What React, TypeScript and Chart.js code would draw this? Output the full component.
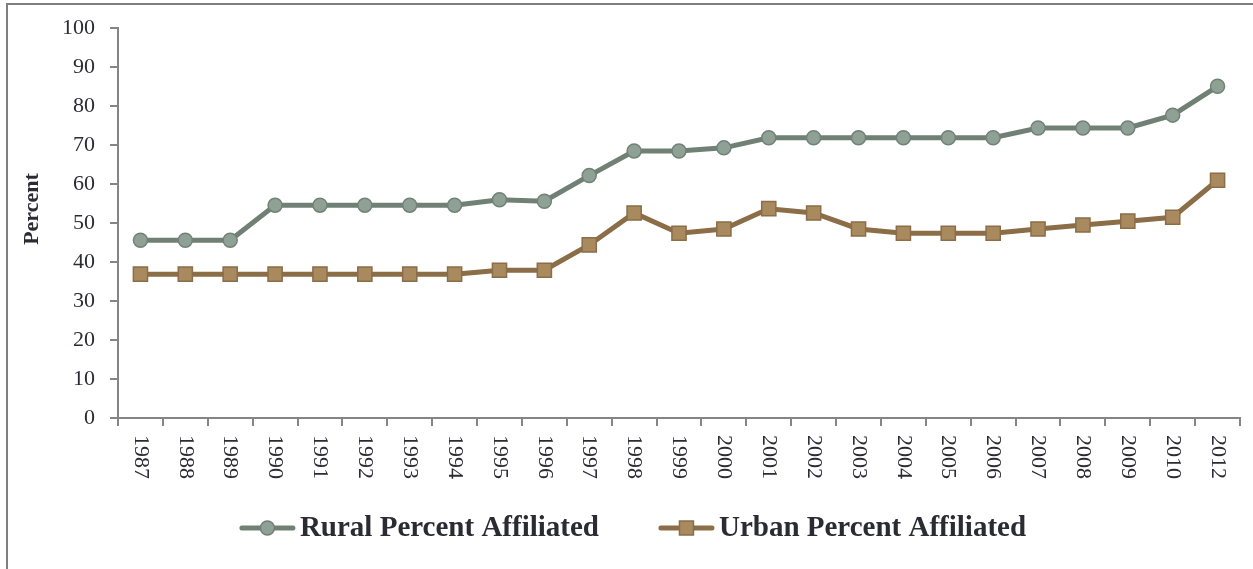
import React, { useEffect, useRef } from "react";
import { Chart, registerables } from "chart.js";

Chart.register(...registerables);

const years = ["1987","1988","1989","1990","1991","1992","1993","1994","1995","1996","1997","1998","1999","2000","2001","2002","2003","2004","2005","2006","2007","2008","2009","2010","2012"];
const rural = [45.6,45.6,45.6,54.6,54.6,54.6,54.6,54.6,56.0,55.6,62.2,68.5,68.5,69.3,71.9,71.9,71.9,71.9,71.9,71.9,74.4,74.4,74.4,77.7,85.1];
const urban = [36.9,36.9,36.9,36.9,36.9,36.9,36.9,36.9,37.9,37.9,44.4,52.6,47.4,48.5,53.7,52.6,48.5,47.4,47.4,47.4,48.5,49.5,50.5,51.5,61.0];
const seriesNames = ["Rural Percent Affiliated", "Urban Percent Affiliated"];
const yTitle = "Percent";

const FONT = "'Liberation Serif', 'Times New Roman', serif";
const RURAL_LINE = "#708074";
const RURAL_FILL = "#8fa094";
const URBAN_LINE = "#8b6d47";
const URBAN_FILL = "#a98a5f";
const AXIS = "#858585";
const TEXT = "#2b2b33";

export default function App() {
  const ref = useRef<HTMLCanvasElement>(null);
  useEffect(() => {
    document.body.style.margin = "0";
    const canvas = ref.current!;
    const framePlugin = {
      id: "frame",
      beforeDraw(chart: any) {
        const ctx = chart.ctx;
        ctx.save();
        ctx.strokeStyle = "#7f7f7f";
        ctx.lineWidth = 2;
        ctx.strokeRect(7, 4, chart.width + 20, chart.height + 20);
        ctx.restore();
      },
    };
    const textPlugin = {
      id: "xlabels",
      afterDraw(chart: any) {
        const ctx = chart.ctx;
        const xs = chart.scales.x;
        ctx.save();
        ctx.font = `22px ${FONT}`;
        ctx.fillStyle = TEXT;
        ctx.textAlign = "left";
        ctx.textBaseline = "middle";
        years.forEach((y, i) => {
          const px = xs.getPixelForTick(i);
          ctx.save();
          ctx.translate(px, xs.top + 17);
          ctx.rotate(Math.PI / 2);
          ctx.fillText(y, 0, 0);
          ctx.restore();
        });
        // y-axis title
        ctx.save();
        ctx.font = `bold 22px ${FONT}`;
        ctx.textAlign = "center";
        ctx.textBaseline = "middle";
        ctx.translate(32, 209);
        ctx.rotate(-Math.PI / 2);
        ctx.fillText(yTitle, 0, 0);
        ctx.restore();
        ctx.restore();
      },
    };
    const legendPlugin = {
      id: "customLegend",
      afterDraw(chart: any) {
        const ctx = chart.ctx;
        ctx.save();
        ctx.font = `bold 29px ${FONT}`;
        const w0 = ctx.measureText(seriesNames[0]).width;
        const w1 = ctx.measureText(seriesNames[1]).width;
        const lineW = 55, gapT = 5, gapItems = 60;
        const total = lineW + gapT + w0 + gapItems + lineW + gapT + w1;
        let x = 633 - total / 2;
        const y = 528;
        const items = [
          { name: seriesNames[0], w: w0, line: RURAL_LINE, fill: RURAL_FILL, style: "circle" },
          { name: seriesNames[1], w: w1, line: URBAN_LINE, fill: URBAN_FILL, style: "rect" },
        ];
        items.forEach((it) => {
          ctx.strokeStyle = it.line;
          ctx.lineWidth = 5;
          ctx.lineCap = "round";
          ctx.beginPath();
          ctx.moveTo(x + 2, y);
          ctx.lineTo(x + lineW - 2, y);
          ctx.stroke();
          ctx.fillStyle = it.fill;
          ctx.lineWidth = 1.5;
          ctx.beginPath();
          if (it.style === "circle") {
            ctx.arc(x + lineW / 2, y, 7, 0, Math.PI * 2);
          } else {
            ctx.rect(x + lineW / 2 - 7, y - 7, 14, 14);
          }
          ctx.fill();
          ctx.stroke();
          ctx.fillStyle = TEXT;
          ctx.textAlign = "left";
          ctx.textBaseline = "middle";
          ctx.fillText(it.name, x + lineW + gapT, y + 1);
          x += lineW + gapT + it.w + gapItems;
        });
        ctx.restore();
      },
    };
    const chart = new Chart(canvas, {
      type: "line",
      data: {
        labels: years,
        datasets: [
          {
            label: seriesNames[0],
            data: rural,
            borderColor: RURAL_LINE,
            borderWidth: 5,
            backgroundColor: RURAL_FILL,
            pointBackgroundColor: RURAL_FILL,
            pointBorderColor: "#718278",
            pointBorderWidth: 1.5,
            pointRadius: 7,
            pointStyle: "circle",
            tension: 0,
          },
          {
            label: seriesNames[1],
            data: urban,
            borderColor: URBAN_LINE,
            borderWidth: 5,
            backgroundColor: URBAN_FILL,
            pointBackgroundColor: URBAN_FILL,
            pointBorderColor: URBAN_LINE,
            pointBorderWidth: 1.5,
            pointRadius: 10,
            pointStyle: "rect",
            tension: 0,
          },
        ],
      },
      options: {
        responsive: false,
        animation: false,
        layout: { padding: { left: 0, top: 28, right: 13, bottom: 0 } },
        plugins: { legend: { display: false }, tooltip: { enabled: false } },
        scales: {
          x: {
            type: "category",
            offset: true,
            afterFit(scale: any) { scale.height = 151; },
            grid: { display: true, drawOnChartArea: false, drawTicks: true, tickLength: 8, offset: true, color: AXIS, lineWidth: 2 },
            border: { display: true, color: AXIS, width: 2 },
            ticks: { display: false },
          },
          y: {
            min: 0,
            max: 100,
            afterFit(scale: any) { scale.width = 118; },
            grid: { display: true, drawOnChartArea: false, drawTicks: true, tickLength: 8, color: AXIS, lineWidth: 2 },
            border: { display: true, color: AXIS, width: 2 },
            ticks: { stepSize: 10, padding: 15, color: TEXT, font: { family: FONT, size: 22 } },
            title: { display: false, text: yTitle },
          },
        },
      },
      plugins: [framePlugin, textPlugin, legendPlugin],
    });
    return () => chart.destroy();
  }, []);
  return <canvas ref={ref} width={1253} height={569} style={{ display: "block" }} />;
}
